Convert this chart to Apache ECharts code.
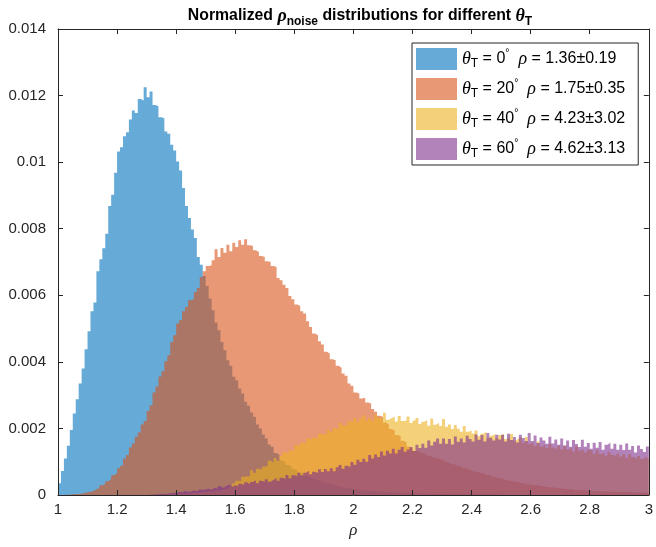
<!DOCTYPE html>
<html><head><meta charset="utf-8">
<script src="https://cdn.jsdelivr.net/npm/echarts@6/dist/echarts.min.js"></script>
<style>html,body{margin:0;padding:0;background:#fff}#c{width:656px;height:547px}</style>
</head><body><div id="c"></div>
<script>
// Histogram bins: left edges start at 1.00, width 0.01 (200 bins up to 3.00)
const binStart = 1.0;
const binWidth = 0.01;

const thetaLabels = ['0', '20', '40', '60'];
const rhoMeans = ['1.36', '1.75', '4.23', '4.62'];
const rhoStds = ['0.19', '0.35', '3.02', '3.13'];

const xTicks = [1, 1.2, 1.4, 1.6, 1.8, 2, 2.2, 2.4, 2.6, 2.8, 3];
const yTicks = [0, 0.002, 0.004, 0.006, 0.008, 0.01, 0.012, 0.014];

const theta0 = [
0.00035,0.00072,0.00110,0.00148,0.00195,0.00245,0.00288,0.00335,0.00380,0.00438,
0.00492,0.00552,0.00578,0.00672,0.00708,0.00741,0.00785,0.00868,0.00902,0.00968,
0.01032,0.01045,0.01078,0.01090,0.01128,0.01155,0.01148,0.01190,0.01185,0.01225,
0.01195,0.01212,0.01172,0.01168,0.01135,0.01132,0.01092,0.01085,0.01052,0.01035,
0.01002,0.00975,0.00922,0.00868,0.00832,0.00798,0.00772,0.00715,0.00692,0.00658,
0.00628,0.00590,0.00555,0.00518,0.00495,0.00460,0.00435,0.00405,0.00388,0.00355,
0.00345,0.00320,0.00305,0.00280,0.00268,0.00248,0.00235,0.00212,0.00200,0.00182,
0.00170,0.00152,0.00145,0.00126,0.00120,0.00104,0.00099,0.00090,0.00087,0.00078,
0.00075,0.00067,0.00065,0.00058,0.00057,0.00051,0.00049,0.00044,0.00043,0.00038,
0.00037,0.00033,0.00032,0.00028,0.00028,0.00024,0.00024,0.00021,0.00021,0.00018,
0.00018,0.00016,0.00016,0.00014,0.00014,0.00012,0.00012,0.00011,0.00011,0.00010,
0.00009,0.00009,0.00008,0.00008,0.00007,0.00007,0.00006,0.00006,0.00006,0.00005,
0.00005,0.00005,0.00004,0.00004,0.00004,0.00004,0.00003,0.00003,0.00003,0.00003,
0.00003,0.00002,0.00002,0.00002,0.00002,0.00002,0.00002,0.00002,0.00002,0.00002,
0.00002,0.00002,0.00002,0.00002,0.00002,0.00002,0.00002,0.00002,0.00002,0.00002,
0.00001,0.00001,0.00001,0.00001,0.00001,0.00001,0.00001,0.00001,0.00001,0.00001,
0.00001,0.00001,0.00001,0.00001,0.00001,0.00001,0.00001,0.00001,0.00001,0.00001,
0.00001,0.00001,0.00001,0.00001,0.00001,0.00001,0.00001,0.00001,0.00001,0.00001,
0.00001,0.00001,0.00001,0.00001,0.00001,0.00001,0.00001,0.00001,0.00001,0.00001,
0.00001,0.00001,0.00001,0.00001,0.00001,0.00001,0.00001,0.00001,0.00001,0.00001
];

const theta20 = [
0,0,0.00001,0.00001,0.00002,0.00003,0.00003,0.00004,0.00006,0.00008,
0.00010,0.00012,0.00017,0.00021,0.00029,0.00033,0.00041,0.00047,0.00059,0.00065,
0.00080,0.00088,0.00110,0.00120,0.00143,0.00155,0.00175,0.00188,0.00212,0.00222,
0.00252,0.00270,0.00308,0.00326,0.00356,0.00372,0.00402,0.00420,0.00460,0.00480,
0.00515,0.00526,0.00552,0.00565,0.00585,0.00588,0.00610,0.00622,0.00655,0.00672,
0.00688,0.00690,0.00705,0.00738,0.00715,0.00742,0.00728,0.00752,0.00732,0.00758,
0.00745,0.00765,0.00752,0.00768,0.00750,0.00748,0.00735,0.00730,0.00718,0.00715,
0.00702,0.00700,0.00688,0.00685,0.00652,0.00645,0.00632,0.00622,0.00598,0.00588,
0.00572,0.00568,0.00552,0.00545,0.00522,0.00505,0.00485,0.00480,0.00462,0.00452,
0.00430,0.00425,0.00408,0.00405,0.00388,0.00382,0.00365,0.00358,0.00335,0.00328,
0.00308,0.00305,0.00290,0.00292,0.00278,0.00275,0.00258,0.00250,0.00238,0.00235,
0.00218,0.00212,0.00198,0.00194,0.00180,0.00177,0.00163,0.00158,0.00146,0.00140,
0.00132,0.00131,0.00127,0.00125,0.00119,0.00118,0.00113,0.00113,0.00109,0.00107,
0.00101,0.00099,0.00094,0.00093,0.00088,0.00087,0.00082,0.00081,0.00076,0.00075,
0.00070,0.00070,0.00066,0.00066,0.00061,0.00060,0.00055,0.00055,0.00050,0.00050,
0.00046,0.00046,0.00042,0.00043,0.00039,0.00039,0.00035,0.00035,0.00031,0.00032,
0.00029,0.00030,0.00027,0.00027,0.00024,0.00025,0.00022,0.00023,0.00020,0.00021,
0.00018,0.00019,0.00017,0.00018,0.00015,0.00016,0.00014,0.00015,0.00013,0.00014,
0.00011,0.00013,0.00011,0.00012,0.00010,0.00011,0.00009,0.00011,0.00009,0.00010,
0.00009,0.00009,0.00008,0.00009,0.00008,0.00008,0.00007,0.00008,0.00007,0.00007
];

const theta40 = [
0,0,0,0,0,0,0,0,0,0,
0,0,0,0,0,0,0,0,0,0,
0,0,0,0,0,0,0,0,0,0,
0,0,0,0,0,0.00001,0.00001,0.00001,0.00002,0.00001,
0.00002,0.00003,0.00002,0.00004,0.00004,0.00005,0.00007,0.00006,0.00008,0.00009,
0.00011,0.00010,0.00013,0.00014,0.00013,0.00017,0.00019,0.00023,0.00028,0.00035,
0.00043,0.00042,0.00055,0.00056,0.00056,0.00074,0.00067,0.00079,0.00076,0.00085,
0.00089,0.00103,0.00098,0.00111,0.00103,0.00118,0.00129,0.00124,0.00133,0.00134,
0.00150,0.00147,0.00157,0.00155,0.00170,0.00166,0.00173,0.00170,0.00184,0.00182,
0.00182,0.00197,0.00190,0.00201,0.00196,0.00216,0.00209,0.00210,0.00222,0.00220,
0.00231,0.00220,0.00229,0.00239,0.00224,0.00231,0.00223,0.00240,0.00232,0.00229,
0.00247,0.00226,0.00231,0.00235,0.00221,0.00237,0.00222,0.00224,0.00236,0.00216,
0.00224,0.00231,0.00213,0.00220,0.00225,0.00208,0.00230,0.00211,0.00217,0.00207,
0.00228,0.00205,0.00212,0.00198,0.00210,0.00199,0.00190,0.00207,0.00190,0.00194,
0.00185,0.00194,0.00177,0.00184,0.00190,0.00171,0.00178,0.00183,0.00171,0.00180,
0.00183,0.00168,0.00174,0.00183,0.00164,0.00170,0.00175,0.00157,0.00174,0.00154,
0.00159,0.00147,0.00161,0.00146,0.00152,0.00141,0.00153,0.00143,0.00137,0.00148,
0.00137,0.00148,0.00137,0.00143,0.00131,0.00146,0.00134,0.00138,0.00128,0.00136,
0.00133,0.00123,0.00135,0.00123,0.00127,0.00118,0.00129,0.00121,0.00117,0.00125,
0.00116,0.00123,0.00112,0.00123,0.00114,0.00108,0.00117,0.00108,0.00114,0.00109
];

const theta60 = [
0,0,0,0,0,0,0,0,0,0,
0,0,0,0,0,0,0,0,0,0,
0,0,0,0,0,0,0,0,0,0,
0.00001,0.00001,0.00002,0.00002,0.00003,0.00003,0.00004,0.00005,0.00006,0.00007,
0.00009,0.00008,0.00012,0.00010,0.00010,0.00014,0.00011,0.00017,0.00015,0.00017,
0.00019,0.00016,0.00022,0.00019,0.00026,0.00021,0.00027,0.00031,0.00025,0.00029,
0.00027,0.00034,0.00030,0.00038,0.00032,0.00039,0.00044,0.00035,0.00043,0.00040,
0.00047,0.00040,0.00046,0.00051,0.00043,0.00052,0.00049,0.00060,0.00050,0.00059,
0.00056,0.00067,0.00059,0.00067,0.00073,0.00062,0.00070,0.00066,0.00077,0.00069,
0.00078,0.00071,0.00080,0.00071,0.00083,0.00090,0.00079,0.00088,0.00084,0.00099,
0.00091,0.00106,0.00099,0.00109,0.00100,0.00120,0.00110,0.00122,0.00114,0.00131,
0.00119,0.00133,0.00125,0.00139,0.00125,0.00136,0.00144,0.00130,0.00137,0.00144,
0.00132,0.00151,0.00141,0.00154,0.00142,0.00164,0.00149,0.00160,0.00170,0.00154,
0.00170,0.00154,0.00168,0.00152,0.00176,0.00160,0.00170,0.00158,0.00178,0.00168,
0.00161,0.00182,0.00166,0.00180,0.00161,0.00186,0.00172,0.00164,0.00181,0.00167,
0.00181,0.00161,0.00184,0.00165,0.00174,0.00158,0.00181,0.00171,0.00162,0.00186,
0.00162,0.00179,0.00156,0.00173,0.00164,0.00154,0.00175,0.00155,0.00167,0.00151,
0.00170,0.00149,0.00164,0.00145,0.00165,0.00153,0.00144,0.00166,0.00145,0.00156,
0.00139,0.00157,0.00142,0.00159,0.00136,0.00151,0.00157,0.00139,0.00154,0.00136,
0.00151,0.00135,0.00155,0.00136,0.00147,0.00128,0.00149,0.00138,0.00129,0.00146
];

const seriesValues = [theta0, theta20, theta40, theta60];
const baseColors = ['rgba(0,114,189,0.6)', 'rgba(217,83,25,0.6)', 'rgba(237,177,32,0.6)', 'rgba(126,47,142,0.6)'];
const legendColors = ['#66AAD7', '#E89875', '#F4D079', '#B282BB'];

const SANS = 'Helvetica, "Liberation Sans", Arial, sans-serif';
const SERIF = '"Liberation Serif", "DejaVu Serif", serif';
const AX = '#262626';

function toStepData(vals) {
  const d = vals.map((v, i) => [+(binStart + i * binWidth).toFixed(4), v]);
  d.push([+(binStart + vals.length * binWidth).toFixed(4), vals[vals.length - 1]]);
  return d;
}

const names = thetaLabels.map(t => 'theta' + t);

const series = seriesValues.map((vals, i) => ({
  name: names[i],
  type: 'line',
  step: 'end',
  symbol: 'none',
  xAxisIndex: 0,
  yAxisIndex: 0,
  data: toStepData(vals),
  itemStyle: { color: legendColors[i] },
  lineStyle: { width: 0, opacity: 0 },
  areaStyle: { color: baseColors[i], opacity: 1 },
  emphasis: { disabled: true },
  silent: true,
  animation: false,
  z: 2
}));

const axisCommon = {
  axisLine: { show: true, onZero: false, lineStyle: { color: AX, width: 1 } },
  axisTick: { show: true, inside: true, length: 5, lineStyle: { color: AX, width: 1 } },
  splitLine: { show: false },
  z: 5
};

const chart = echarts.init(document.getElementById('c'), null, { renderer: 'canvas' });
chart.setOption({
  animation: false,
  backgroundColor: '#fff',
  title: {
    text: '{b|Normalized }{g|ρ}{s|noise}{b| distributions for different }{g|θ}{s|T}',
    left: 355,
    top: -1,
    textAlign: 'center',
    textStyle: {
      rich: {
        b: { fontFamily: SANS, fontWeight: 'bold', fontSize: 15.8, lineHeight: 24, verticalAlign: 'middle', color: '#000' },
        g: { fontFamily: SERIF, fontStyle: 'italic', fontSize: 18, lineHeight: 24, verticalAlign: 'middle', color: '#000' },
        s: { fontFamily: SANS, fontWeight: 'bold', fontSize: 12, lineHeight: 11, verticalAlign: 'bottom', color: '#000' }
      }
    }
  },
  grid: { left: 58, right: 6, top: 29, bottom: 52, containLabel: false },
  legend: {
    orient: 'vertical',
    left: 412,
    top: 43,
    itemWidth: 41,
    itemHeight: 22,
    itemGap: 8,
    padding: [5, 13, 5, 4],
    borderColor: AX,
    borderWidth: 1,
    backgroundColor: '#fff',
    icon: 'rect',
    selectedMode: false,
    data: names.map((n, i) => ({ name: n, itemStyle: { color: legendColors[i], borderWidth: 0 } })),
    formatter: function (name) {
      const i = names.indexOf(name);
      return '{g|θ}{s|T}{n| = ' + thetaLabels[i] + '}{p|°}{n|  }{g|ρ}{n| = ' + rhoMeans[i] + '±' + rhoStds[i] + '}';
    },
    textStyle: {
      rich: {
        n: { fontFamily: SANS, fontSize: 16, lineHeight: 22, verticalAlign: 'middle', color: '#000' },
        g: { fontFamily: SERIF, fontStyle: 'italic', fontSize: 18, lineHeight: 22, verticalAlign: 'middle', color: '#000' },
        s: { fontFamily: SANS, fontSize: 12, lineHeight: 10, verticalAlign: 'bottom', color: '#000' },
        p: { fontFamily: SANS, fontSize: 10.5, lineHeight: 10, verticalAlign: 'top', color: '#000' }
      }
    }
  },
  xAxis: [
    Object.assign({}, axisCommon, {
      type: 'value', position: 'bottom', min: xTicks[0], max: xTicks[xTicks.length - 1], interval: 0.2,
      name: 'ρ', nameLocation: 'middle', nameGap: 27,
      nameTextStyle: { fontFamily: SERIF, fontStyle: 'italic', fontSize: 17, color: AX },
      axisLabel: { color: AX, fontSize: 15, fontFamily: SANS, margin: 7, showMinLabel: true, showMaxLabel: true }
    }),
    Object.assign({}, axisCommon, {
      type: 'value', position: 'top', min: xTicks[0], max: xTicks[xTicks.length - 1], interval: 0.2,
      axisLabel: { show: false }
    })
  ],
  yAxis: [
    Object.assign({}, axisCommon, {
      type: 'value', position: 'left', min: yTicks[0], max: yTicks[yTicks.length - 1], interval: 0.002,
      axisLabel: { color: AX, fontSize: 15, fontFamily: SANS, margin: 12, showMinLabel: true, showMaxLabel: true }
    }),
    Object.assign({}, axisCommon, {
      type: 'value', position: 'right', min: yTicks[0], max: yTicks[yTicks.length - 1], interval: 0.002,
      axisLabel: { show: false }
    })
  ],
  series: series
});
</script>
</body></html>
